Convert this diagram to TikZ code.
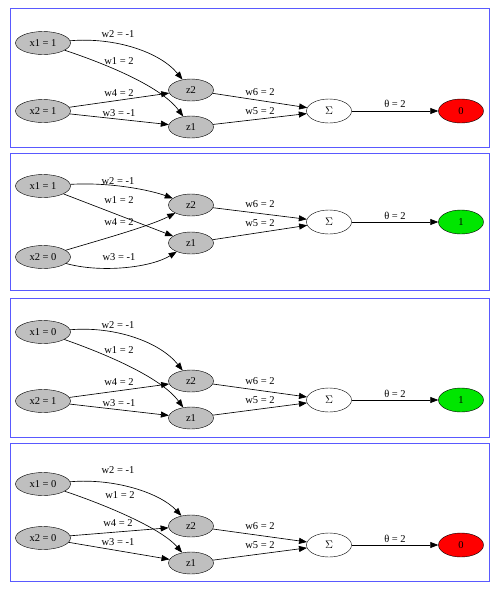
\documentclass[tikz,border=0pt]{standalone}
\usepackage{fontspec}
\setmainfont{Liberation Serif}
\usetikzlibrary{shapes.geometric,arrows.meta}
\tikzset{
  inp/.style={ellipse,draw,fill=gray!50,minimum width=55pt,minimum height=23pt,inner sep=0pt},
  hid/.style={ellipse,draw,fill=gray!50,minimum width=45pt,minimum height=22pt,inner sep=0pt},
  sumn/.style={ellipse,draw,fill=white,minimum width=45pt,minimum height=24pt,inner sep=0pt},
  outn/.style={ellipse,draw,minimum width=45pt,minimum height=24pt,inner sep=0pt},
  edge/.style={draw,line width=0.65pt,-{Triangle[length=8pt,width=6pt]}},
  lbl/.style={inner sep=0pt,yshift=1.5pt,font=\fontsize{10.5}{12}\selectfont},
  panel/.style={draw=blue!65,line width=1pt},
}
\definecolor{outred}{RGB}{255,0,0}
\definecolor{outgreen}{RGB}{0,230,0}
\begin{document}
\begin{tikzpicture}[x=1pt,y=-1pt,font=\fontsize{10.5}{12}\selectfont]
\useasboundingbox (0,0) rectangle (500,590);
% ---------- Panel 1 ----------
\draw[panel] (10,8) rectangle (489,147);
\node[inp] (xa1) at (43,43) {x1 = 1};
\node[inp] (xa2) at (43,111) {x2 = 1};
\node[hid] (za2) at (191,90) {z2};
\node[hid] (za1) at (191,127) {z1};
\node[sumn] (sa) at (329,111) {$\Sigma$};
\node[outn,fill=outred] (oa) at (461,111) {0};
\draw[edge] (xa1) .. controls (115,37) and (160,52) .. (za2);
\draw[edge] (xa1) .. controls (100,62) and (160,85) .. (za1);
\draw[edge] (xa2) -- (za2);
\draw[edge] (xa2) -- (za1);
\draw[edge] (za2) -- (sa);
\draw[edge] (za1) -- (sa);
\draw[edge] (sa) -- (oa);
\node[lbl] (la2) at (118,36) {w2 = -1};
\node[lbl] (la1) at (119,63) {w1 = 2};
\node[lbl] (la4) at (119,95) {w4 = 2};
\node[lbl] (la3) at (119,115) {w3 = -1};
\node[lbl] (la6) at (260,94) {w6 = 2};
\node[lbl] (la5) at (260,113) {w5 = 2};
\node[lbl] (lat) at (395,105) {θ = 2};
% ---------- Panel 2 ----------
\draw[panel] (10,153) rectangle (489,290);
\node[inp] (xb1) at (43,186) {x1 = 1};
\node[inp] (xb2) at (43,257) {x2 = 0};
\node[hid] (zb2) at (191,205) {z2};
\node[hid] (zb1) at (191,243) {z1};
\node[sumn] (sb) at (329,222) {$\Sigma$};
\node[outn,fill=outgreen] (ob) at (461,222) {1};
\draw[edge] (xb1) .. controls (110,182) and (150,190) .. (zb2);
\draw[edge] (xb1) -- (zb1);
\draw[edge] (xb2) .. controls (100,240) and (150,226) .. (zb2);
\draw[edge] (xb2) .. controls (100,273) and (150,268) .. (zb1);
\draw[edge] (zb2) -- (sb);
\draw[edge] (zb1) -- (sb);
\draw[edge] (sb) -- (ob);
\node[lbl] (lb2) at (118,183) {w2 = -1};
\node[lbl] (lb1) at (119,202) {w1 = 2};
\node[lbl] (lb4) at (119,224) {w4 = 2};
\node[lbl] (lb3) at (119,259) {w3 = -1};
\node[lbl] (lb6) at (260,206) {w6 = 2};
\node[lbl] (lb5) at (260,225) {w5 = 2};
\node[lbl] (lbt) at (395,217) {θ = 2};
% ---------- Panel 3 ----------
\draw[panel] (10,298) rectangle (489,437);
\node[inp] (xc1) at (43,332) {x1 = 0};
\node[inp] (xc2) at (43,401) {x2 = 1};
\node[hid] (zc2) at (191,381) {z2};
\node[hid] (zc1) at (191,418) {z1};
\node[sumn] (sc) at (329,400) {$\Sigma$};
\node[outn,fill=outgreen] (oc) at (461,400) {1};
\draw[edge] (xc1) .. controls (115,326) and (160,342) .. (zc2);
\draw[edge] (xc1) .. controls (100,352) and (160,376) .. (zc1);
\draw[edge] (xc2) -- (zc2);
\draw[edge] (xc2) -- (zc1);
\draw[edge] (zc2) -- (sc);
\draw[edge] (zc1) -- (sc);
\draw[edge] (sc) -- (oc);
\node[lbl] (lc2) at (118,327) {w2 = -1};
\node[lbl] (lc1) at (119,352) {w1 = 2};
\node[lbl] (lc4) at (119,384) {w4 = 2};
\node[lbl] (lc3) at (119,405) {w3 = -1};
\node[lbl] (lc6) at (260,383) {w6 = 2};
\node[lbl] (lc5) at (260,402) {w5 = 2};
\node[lbl] (lct) at (395,395) {θ = 2};
% ---------- Panel 4 ----------
\draw[panel] (10,443) rectangle (489,581);
\node[inp] (xd1) at (43,484) {x1 = 0};
\node[inp] (xd2) at (43,538) {x2 = 0};
\node[hid] (zd2) at (191,526) {z2};
\node[hid] (zd1) at (191,563) {z1};
\node[sumn] (sd) at (329,545) {$\Sigma$};
\node[outn,fill=outred] (od) at (461,545) {0};
\draw[edge] (xd1) .. controls (115,478) and (160,493) .. (zd2);
\draw[edge] (xd1) .. controls (100,503) and (160,527) .. (zd1);
\draw[edge] (xd2) -- (zd2);
\draw[edge] (xd2) -- (zd1);
\draw[edge] (zd2) -- (sd);
\draw[edge] (zd1) -- (sd);
\draw[edge] (sd) -- (od);
\node[lbl] (ld2) at (118,472) {w2 = -1};
\node[lbl] (ld1) at (120,497) {w1 = 2};
\node[lbl] (ld4) at (118,525) {w4 = 2};
\node[lbl] (ld3) at (118,544) {w3 = -1};
\node[lbl] (ld6) at (260,528) {w6 = 2};
\node[lbl] (ld5) at (260,547) {w5 = 2};
\node[lbl] (ldt) at (395,540) {θ = 2};
\end{tikzpicture}
\end{document}
